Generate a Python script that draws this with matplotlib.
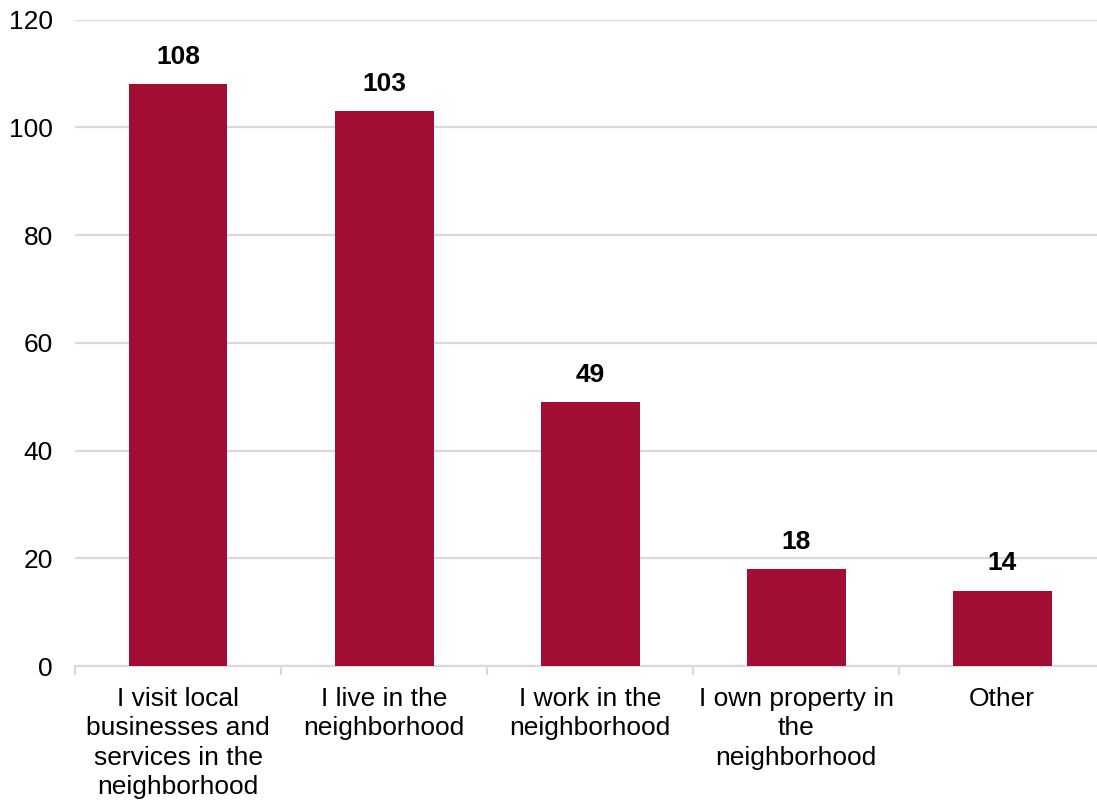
import matplotlib
matplotlib.use("Agg")
import matplotlib.pyplot as plt

categories = ["I visit local\nbusinesses and\nservices in the\nneighborhood",
              "I live in the\nneighborhood",
              "I work in the\nneighborhood",
              "I own property in\nthe\nneighborhood",
              "Other"]
values = [108, 103, 49, 18, 14]
yticks = [0, 20, 40, 60, 80, 100, 120]

plt.rcParams['font.family'] = ['Liberation Sans', 'DejaVu Sans']

fig = plt.figure(figsize=(10.97, 8.08), dpi=100)
ax = fig.add_axes([0.0684, 0.1757, 0.939, 0.800])

x = list(range(len(categories)))
bars = ax.bar(x, values, width=0.48, color='#A20E33', zorder=3)
for xi, v in zip(x, values):
    ax.annotate(str(v), (xi, v), xytext=(0, 11), textcoords='offset points',
                ha='center', va='bottom', fontsize=19, fontweight='bold', color='black')

ax.set_xlim(-0.5, len(categories) - 0.5)
ax.set_ylim(0, 120)
ax.set_yticks(yticks)
ax.set_yticklabels([str(t) for t in yticks], fontsize=19)
ax.yaxis.grid(True, color='#d9d9d9', linewidth=1.6, zorder=0)
ax.set_axisbelow(True)
for s in ['top', 'right', 'left']:
    ax.spines[s].set_visible(False)
ax.spines['bottom'].set_color('#d9d9d9')
ax.spines['bottom'].set_linewidth(1.6)
ax.tick_params(axis='y', length=0, pad=16)

ax.set_xticks(x)
ax.set_xticklabels(categories, fontsize=19, linespacing=1.28)
ax.tick_params(axis='x', length=0, pad=15)
# category boundary ticks
ax.set_xticks([i - 0.5 for i in range(len(categories) + 1)], minor=True)
ax.tick_params(axis='x', which='minor', length=6.5, color='#d9d9d9', width=1.6)

fig.savefig('out.png', dpi=100, facecolor='white')
